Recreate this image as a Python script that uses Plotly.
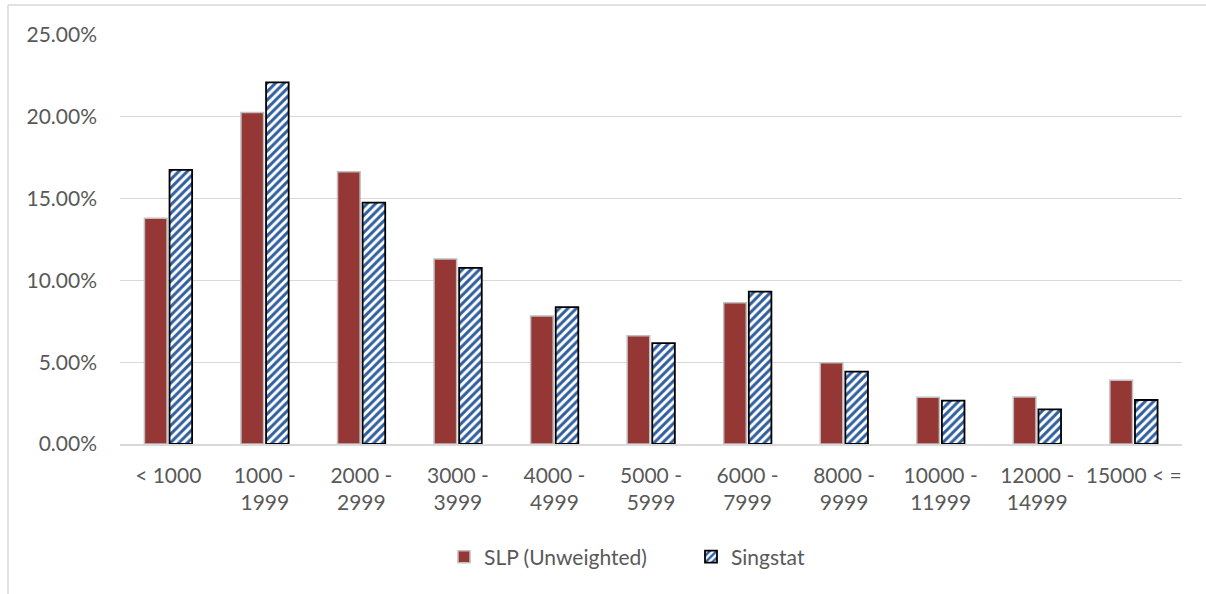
import plotly.graph_objects as go

categories = ["< 1000", "1000 -<br>1999", "2000 -<br>2999", "3000 -<br>3999", "4000 -<br>4999",
              "5000 -<br>5999", "6000 -<br>7999", "8000 -<br>9999", "10000 -<br>11999",
              "12000 -<br>14999", "15000 < ="]
slp_unweighted = [13.80, 20.27, 16.64, 11.31, 7.82, 6.62, 8.64, 4.97, 2.85, 2.87, 3.89]
singstat = [16.75, 22.10, 14.75, 10.76, 8.37, 6.17, 9.31, 4.42, 2.65, 2.12, 2.69]
y_ticks = [0, 5, 10, 15, 20, 25]

FONT = "Lato"
GREY_TXT = "#595959"
FS = 21

fig = go.Figure()
fig.add_trace(go.Bar(
    x=categories, y=slp_unweighted, name="SLP (Unweighted)",
    marker=dict(color="#953735", line=dict(color="#bfbfbf", width=1.5)),
))
fig.add_trace(go.Bar(
    x=categories, y=singstat, name="Singstat",
    marker=dict(color="white",
                line=dict(color="black", width=1.8),
                pattern=dict(shape="/", fgcolor="#2f5e9e", bgcolor="white",
                             fgopacity=1, size=6, solidity=0.5, fillmode="replace")),
))

# chart area frame (partial, as in the reference)
L, R, T, B = 120, 1182, 35, 444
def px_x(p):
    return (p - L) / (R - L)
def px_y(p):
    return (B - p) / (B - T)

fig.add_shape(type="line", xref="paper", yref="paper",
              x0=px_x(8), x1=px_x(1206), y0=px_y(5), y1=px_y(5),
              line=dict(color="#d9d9d9", width=1.5))
fig.add_shape(type="line", xref="paper", yref="paper",
              x0=px_x(8), x1=px_x(8), y0=px_y(5), y1=px_y(594),
              line=dict(color="#d9d9d9", width=1.5))

fig.update_layout(
    width=1206, height=594,
    margin=dict(l=L, r=1206 - R, t=T, b=594 - B),
    paper_bgcolor="white", plot_bgcolor="white",
    barmode="group", bargap=0.48, bargroupgap=0.1,
    font=dict(family=FONT, size=FS, color=GREY_TXT),
    showlegend=True,
    legend=dict(orientation="h", x=px_x(444), xanchor="left",
                y=px_y(557), yanchor="middle",
                font=dict(family=FONT, size=FS, color=GREY_TXT),
                itemwidth=30, entrywidth=202, entrywidthmode="pixels",
                traceorder="normal"),
    xaxis=dict(showgrid=False, showline=True, linecolor="#d9d9d9", linewidth=1.5,
               ticks="", tickfont=dict(family=FONT, size=FS, color=GREY_TXT),
               ticklabelstandoff=12),
    yaxis=dict(range=[0, 25], tickvals=y_ticks,
               ticktext=[f"{v:.2f}%" for v in y_ticks],
               showgrid=True, gridcolor="#d9d9d9", gridwidth=1.2,
               zeroline=False, showline=False, ticks="",
               tickfont=dict(family=FONT, size=FS, color=GREY_TXT),
               ticklabelstandoff=22),
)

fig.write_html("out.html", config={"displayModeBar": False},
               post_script="document.body.style.margin='0';")
